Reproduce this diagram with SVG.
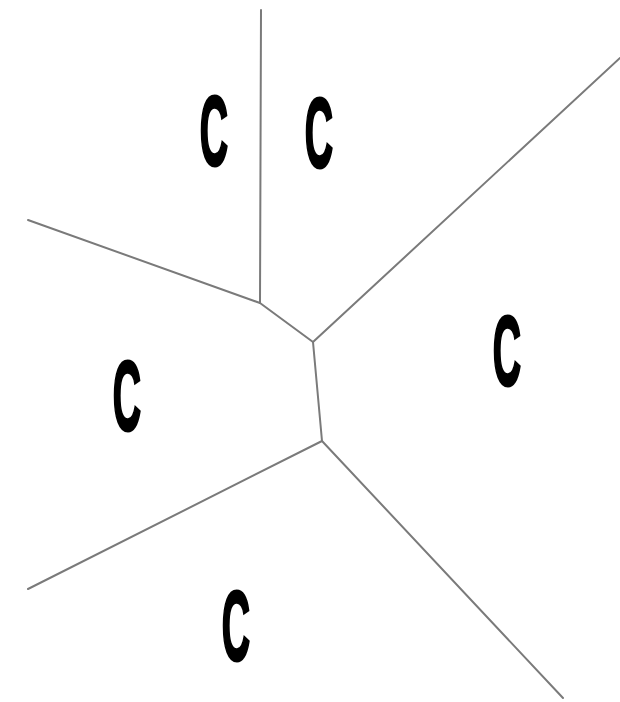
<svg xmlns="http://www.w3.org/2000/svg" width="620" height="702" viewBox="0 0 620 702">
<style>
.e{stroke:#7a7a7a;stroke-width:2;fill:none;stroke-linecap:round}
.c{font-family:"Liberation Sans",Arial,sans-serif;font-weight:bold;font-size:98px;fill:#000;stroke:#000;stroke-width:3;text-anchor:middle}
</style>
<rect width="620" height="702" fill="#fff"/>
<g id="connectors">
<line class="e" x1="261" y1="10" x2="260" y2="303"/>
<line class="e" x1="28" y1="220" x2="260" y2="303"/>
<line class="e" x1="260" y1="303" x2="313" y2="342"/>
<line class="e" x1="313" y1="342" x2="620" y2="58"/>
<line class="e" x1="313" y1="342" x2="322" y2="441"/>
<line class="e" x1="322" y1="441" x2="28" y2="589"/>
<line class="e" x1="322" y1="441" x2="563" y2="698"/>
</g>
<g id="n1"><text class="c" transform="translate(214,165) scale(0.4,1)">C</text></g>
<g id="n2"><text class="c" transform="translate(319,167) scale(0.4,1)">C</text></g>
<g id="n3"><text class="c" transform="translate(127,430) scale(0.4,1)">C</text></g>
<g id="n4"><text class="c" transform="translate(507,385) scale(0.4,1)">C</text></g>
<g id="n5"><text class="c" transform="translate(236,660) scale(0.4,1)">C</text></g>
</svg>
